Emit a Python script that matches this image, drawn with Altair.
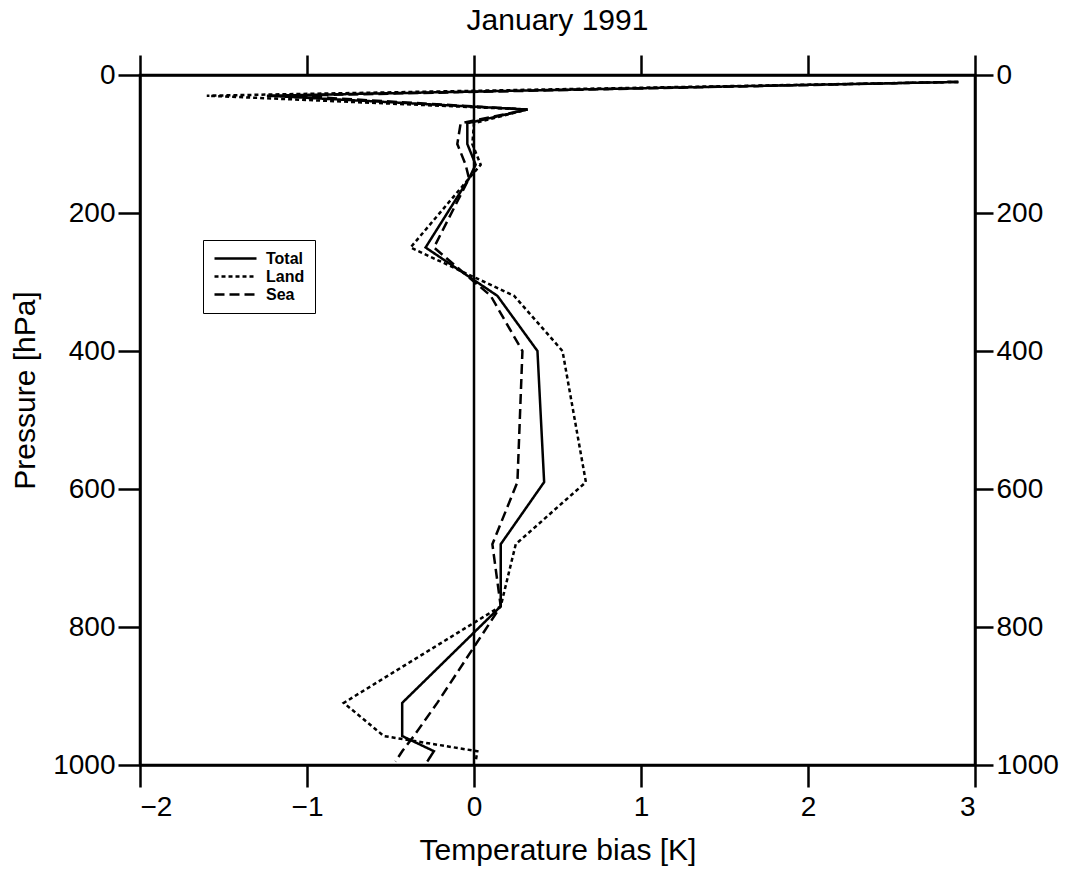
import altair as alt
import pandas as pd

# Pressure levels [hPa] and temperature bias [K]
levels = [10, 30, 50, 70, 100, 130, 150, 250, 320, 400, 590, 680, 770, 910, 958, 980, 995]
total = [2.9, -1.24, 0.32, -0.04, -0.04, 0.01, -0.03, -0.29, 0.14, 0.38, 0.42, 0.16, 0.16, -0.43, -0.43, -0.24, -0.28]
land = [2.9, -1.6, 0.32, 0.0, -0.01, 0.04, -0.03, -0.38, 0.24, 0.53, 0.67, 0.25, 0.16, -0.78, -0.54, 0.02, 0.01]
sea = [2.9, -1.1, 0.32, -0.08, -0.10, -0.05, -0.03, -0.24, 0.10, 0.29, 0.26, 0.11, 0.16, -0.22, -0.36, -0.43, -0.47]

series_names = ["Total", "Land", "Sea"]
x_ticks = [-2, -1, 0, 1, 2, 3]
y_ticks = [0, 200, 400, 600, 800, 1000]

rows = []
for name, vals in zip(series_names, [total, land, sea]):
    for p, v in zip(levels, vals):
        rows.append({"series": name, "pressure": p, "bias": v})
df = pd.DataFrame(rows)
zero_df = pd.DataFrame({"bias": [0]})

FONT = "Liberation Sans"

xscale = alt.Scale(domain=[-2, 3], nice=False, zero=False)
yscale = alt.Scale(domain=[0, 1000], reverse=True, nice=False, zero=False)

lines = alt.Chart(df).mark_line(color="black", strokeWidth=2.5).encode(
    x=alt.X("bias:Q", scale=xscale,
            axis=alt.Axis(orient="bottom", values=x_ticks, tickSize=22, labelPadding=6,
                          title="Temperature bias [K]", titlePadding=14, format="d")),
    y=alt.Y("pressure:Q", scale=yscale,
            axis=alt.Axis(orient="left", values=y_ticks, tickSize=22, labelPadding=3,
                          title="Pressure [hPa]", titleX=-115, titleY=315,
                          titleBaseline="middle", format="d")),
    strokeDash=alt.StrokeDash(
        "series:N",
        scale=alt.Scale(domain=series_names, range=[[1, 0], [4, 3], [10, 5]]),
        legend=alt.Legend(orient="none", legendX=63, legendY=165, title=None,
                          symbolType="M-1,0H5", symbolSize=196, symbolStrokeWidth=2.5,
                          symbolStrokeColor="black", labelFontSize=16,
                          labelFontWeight="bold", labelFont=FONT, labelColor="black",
                          fillColor="white", strokeColor="black", padding=10,
                          rowPadding=1, labelOffset=36, labelLimit=200),
    ),
    order=alt.Order("pressure:Q"),
)

ghost = alt.Chart(df).mark_line(opacity=0).encode(
    x=alt.X("bias:Q", scale=xscale,
            axis=alt.Axis(orient="top", values=x_ticks, tickSize=20, labels=False, title=None)),
    y=alt.Y("pressure:Q", scale=yscale,
            axis=alt.Axis(orient="right", values=y_ticks, tickSize=18, labelPadding=3,
                          title=None, format="d")),
    detail="series:N",
)

zero_rule = alt.Chart(zero_df).mark_rule(color="black", strokeWidth=2.5).encode(
    x=alt.X("bias:Q", scale=xscale, axis=None)
)

chart = alt.layer(zero_rule, lines, ghost).resolve_axis(
    x="independent", y="independent"
).properties(
    width=835,
    height=690,
    padding={"left": 140, "top": 75, "right": 94, "bottom": 116},
    autosize=alt.AutoSizeParams(type="none"),
    title=alt.Title("January 1991", fontSize=30, font=FONT, fontWeight="normal",
                    color="black", offset=18),
).configure_view(
    stroke="black", strokeWidth=2.5
).configure_axis(
    domainColor="black", domainWidth=2.5, tickColor="black", tickWidth=2.5,
    labelColor="black", labelFontSize=28, labelFont=FONT, titleFont=FONT,
    titleFontSize=30, titleFontWeight="normal", titleColor="black", grid=False,
)

chart.save("out.html", embed_options={"renderer": "svg", "actions": False})
